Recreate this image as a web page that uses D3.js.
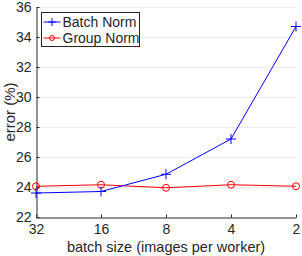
<!DOCTYPE html>
<html>
<head>
<meta charset="utf-8">
<script src="https://cdn.jsdelivr.net/npm/d3@7"></script>
<style>
body { margin: 0; background: #fff; }
text { font-family: "Liberation Sans", Arial, sans-serif; fill: #262626; }
</style>
</head>
<body>
<script>
// chart data
var batchSizes = ["32", "16", "8", "4", "2"];
var batchNorm = [23.6, 23.7, 24.85, 27.2, 34.7];
var groupNorm = [24.05, 24.15, 23.95, 24.15, 24.05];
var yTicks = [22, 24, 26, 28, 30, 32, 34, 36];

var W = 302, H = 256,
	margin = {top: 7, right: 6, bottom: 39, left: 36};

var svg = d3.select("body").append("svg")
	.attr("width", W)
	.attr("height", H);

var xScale = d3.scalePoint().domain(batchSizes).range([margin.left, W - margin.right]),
	yScale = d3.scaleLinear().domain([22, 36]).range([H - margin.bottom, margin.top]);

//grid
svg.append("g").selectAll("line")
	.data(yTicks.slice(1)).enter()
	.append("line")
	.attr("x1", margin.left).attr("x2", W - margin.right)
	.attr("y1", function(d) { return yScale(d) + 0.5; })
	.attr("y2", function(d) { return yScale(d) + 0.5; })
	.style("stroke", "#ebebeb");

//axes
var xAxis = d3.axisBottom(xScale).tickSizeInner(-3).tickSizeOuter(0).tickPadding(7),
	yAxis = d3.axisLeft(yScale).tickValues(yTicks).tickSizeInner(-3).tickSizeOuter(0).tickPadding(5);

var gX = svg.append("g")
	.attr("transform", "translate(0," + (H - margin.bottom + 0.5) + ")")
	.call(xAxis);
var gY = svg.append("g")
	.attr("transform", "translate(" + (margin.left + 0.5) + ",0)")
	.call(yAxis);
[gX, gY].forEach(function(g) {
	g.selectAll("path, line").style("stroke", "#262626");
	g.selectAll("text").style("font-size", "14px").style("fill", "#262626");
	g.select(".domain").style("stroke", "#262626");
});

//labels
svg.append("text")
	.attr("x", (margin.left + W - margin.right) / 2)
	.attr("y", 252)
	.style("text-anchor", "middle")
	.style("font-size", "14.5px")
	.text("batch size (images per worker)");
svg.append("text")
	.attr("transform", "rotate(-90)")
	.attr("x", -yScale(29))
	.attr("y", 15)
	.style("text-anchor", "middle")
	.style("font-size", "15px")
	.text("error (%)");

//lines
var line = d3.line()
	.x(function(d, i) { return xScale(batchSizes[i]); })
	.y(function(d) { return yScale(d); });

svg.append("path").datum(groupNorm)
	.attr("d", line)
	.style("fill", "none").style("stroke", "#ff0000").style("stroke-width", 1);
svg.append("g").selectAll("circle")
	.data(groupNorm).enter()
	.append("circle")
	.attr("cx", function(d, i) { return xScale(batchSizes[i]); })
	.attr("cy", function(d) { return yScale(d); })
	.attr("r", 3.5)
	.style("fill", "none").style("stroke", "#ff0000");

svg.append("path").datum(batchNorm)
	.attr("d", line)
	.style("fill", "none").style("stroke", "#0000ff").style("stroke-width", 1);
svg.append("g").selectAll("path")
	.data(batchNorm).enter()
	.append("path")
	.attr("d", function(d, i) {
		var x = xScale(batchSizes[i]), y = yScale(d);
		return "M" + (x - 5) + "," + y + "H" + (x + 5) + "M" + x + "," + (y - 5) + "V" + (y + 5);
	})
	.style("stroke", "#0000ff");

//legend
var legend = svg.append("g").attr("transform", "translate(41.5,12.5)");
legend.append("rect")
	.attr("width", 98).attr("height", 34)
	.style("fill", "#fff").style("stroke", "#262626");
var legendItems = [
	{name: "Batch Norm", color: "#0000ff", marker: "plus"},
	{name: "Group Norm", color: "#ff0000", marker: "circle"}
];
legendItems.forEach(function(d, i) {
	var y = 9.5 + i * 16;
	legend.append("line")
		.attr("x1", 2).attr("x2", 19).attr("y1", y).attr("y2", y)
		.style("stroke", d.color);
	if (d.marker == "plus") {
		legend.append("path")
			.attr("d", "M6.5," + y + "H14.5M10.5," + (y - 4) + "V" + (y + 4))
			.style("stroke", d.color);
	} else {
		legend.append("circle")
			.attr("cx", 10.5).attr("cy", y).attr("r", 2.5)
			.style("fill", "none").style("stroke", d.color);
	}
	legend.append("text")
		.attr("x", 21).attr("y", y + 5)
		.style("font-size", "14px")
		.text(d.name);
});
</script>
</body>
</html>
